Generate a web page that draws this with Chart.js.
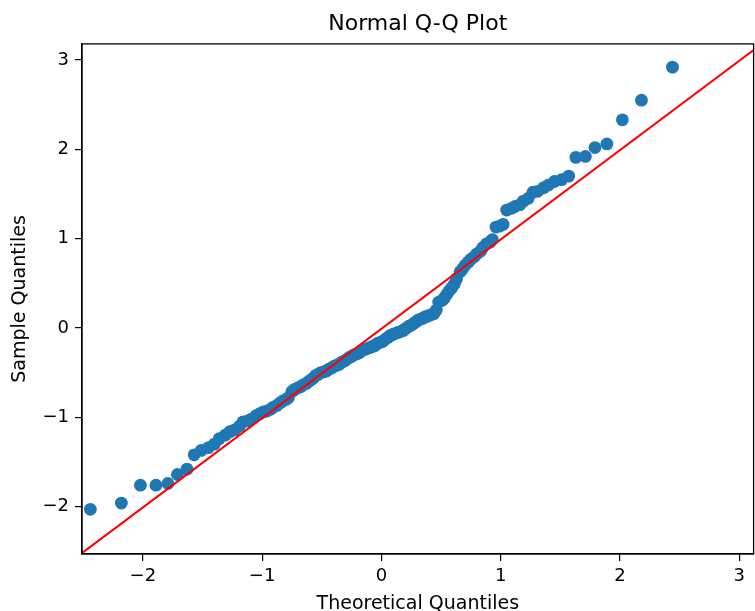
<!DOCTYPE html>
<html>
<head>
<meta charset="utf-8">
<script src="https://cdn.jsdelivr.net/npm/chart.js@4"></script>
<style>
	html, body { margin: 0; padding: 0; overflow: hidden; background: #fff; }
	#wrap { width: 760px; height: 620px; }
</style>
</head>
<body>
<div id="wrap"><canvas id="qq" width="760" height="620"></canvas></div>
<script>
const theoretical = [
	-2.44, -2.18, -2.02, -1.89, -1.79, -1.71, -1.63, -1.57, -1.51, -1.45,
	-1.40, -1.36, -1.31, -1.27, -1.23, -1.19, -1.16, -1.12, -1.09, -1.05,
	-1.02, -0.99, -0.96, -0.93, -0.91, -0.88, -0.85, -0.83, -0.80, -0.78,
	-0.75, -0.73, -0.70, -0.68, -0.66, -0.63, -0.61, -0.59, -0.57, -0.55,
	-0.53, -0.51, -0.48, -0.46, -0.44, -0.42, -0.40, -0.38, -0.36, -0.35,
	-0.33, -0.31, -0.29, -0.27, -0.25, -0.23, -0.21, -0.19, -0.18, -0.16,
	-0.14, -0.12, -0.10, -0.08, -0.06, -0.05, -0.03, -0.01,
	0.01, 0.03, 0.05, 0.06, 0.08, 0.10, 0.12, 0.14, 0.16, 0.18,
	0.19, 0.21, 0.23, 0.25, 0.27, 0.29, 0.31, 0.33, 0.35, 0.36,
	0.38, 0.40, 0.42, 0.44, 0.46, 0.48, 0.51, 0.53, 0.55, 0.57,
	0.59, 0.61, 0.63, 0.66, 0.68, 0.70, 0.73, 0.75, 0.78, 0.80,
	0.83, 0.85, 0.88, 0.91, 0.93, 0.96, 0.99, 1.02, 1.05, 1.09,
	1.12, 1.16, 1.19, 1.23, 1.27, 1.31, 1.36, 1.40, 1.45, 1.51,
	1.57, 1.63, 1.71, 1.79, 1.89, 2.02, 2.18, 2.44
]
const sample = [
	-2.03, -1.96, -1.76, -1.76, -1.74, -1.64, -1.58, -1.42, -1.37, -1.34,
	-1.30, -1.24, -1.20, -1.16, -1.14, -1.10, -1.05, -1.04, -1.02, -0.98,
	-0.96, -0.94, -0.93, -0.91, -0.89, -0.87, -0.84, -0.82, -0.80, -0.78,
	-0.71, -0.69, -0.67, -0.66, -0.64, -0.62, -0.60, -0.58, -0.56, -0.53,
	-0.52, -0.50, -0.49, -0.48, -0.46, -0.45, -0.43, -0.42, -0.41, -0.40,
	-0.38, -0.37, -0.35, -0.33, -0.32, -0.30, -0.29, -0.28, -0.27, -0.25,
	-0.24, -0.23, -0.22, -0.21, -0.20, -0.19, -0.17, -0.16,
	-0.15, -0.13, -0.11, -0.10, -0.08, -0.07, -0.06, -0.05, -0.04, -0.03,
	-0.02, 0.00, 0.02, 0.03, 0.05, 0.07, 0.09, 0.10, 0.11, 0.12,
	0.13, 0.14, 0.15, 0.16, 0.20, 0.29, 0.31, 0.34, 0.38, 0.42,
	0.45, 0.49, 0.55, 0.63, 0.66, 0.70, 0.74, 0.77, 0.80, 0.83,
	0.86, 0.90, 0.94, 0.96, 0.99, 1.13, 1.14, 1.16, 1.32, 1.34,
	1.36, 1.38, 1.42, 1.45, 1.52, 1.53, 1.57, 1.60, 1.64, 1.66,
	1.70, 1.91, 1.92, 2.02, 2.06, 2.33, 2.55, 2.92
]
// reference line (45 degree)
const lineX = [-2.6, 3.2]
const lineY = [-2.61, 3.19]
const xTicks = [-2, -1, 0, 1, 2, 3]
const yTicks = [-2, -1, 0, 1, 2, 3]

const font = 'DejaVu Sans'
const minus = function (v) { return v < 0 ? '\u2212' + Math.abs(v) : String(v) }

const frame = {
	id: 'frame',
	afterDatasetsDraw(chart) {
		const a = chart.chartArea, c = chart.ctx
		c.save()
		c.strokeStyle = '#000'
		c.lineWidth = 1.3
		c.strokeRect(a.left, a.top, a.right - a.left, a.bottom - a.top)
		c.restore()
	}
}

new Chart(document.getElementById('qq'), {
	type: 'scatter',
	data: {
		datasets: [
			{
				type: 'line',
				data: lineX.map((x, i) => ({x: x, y: lineY[i]})),
				borderColor: '#ff0000',
				borderWidth: 2,
				pointRadius: 0,
				fill: false,
				order: 0
			},
			{
				data: theoretical.map((x, i) => ({x: x, y: sample[i]})),
				backgroundColor: '#1f77b4',
				borderWidth: 0,
				pointRadius: 6.4,
				order: 1
			}
		]
	},
	options: {
		responsive: false,
		animation: false,
		layout: { padding: { left: 0, right: 2, top: 0, bottom: 0 } },
		plugins: {
			legend: { display: false },
			tooltip: { enabled: false },
			title: {
				display: true,
				text: 'Normal Q-Q Plot',
				fullSize: false,
				color: '#000',
				font: { family: font, size: 22, weight: 'normal' },
				padding: { top: 11, bottom: 6.5 }
			}
		},
		scales: {
			x: {
				type: 'linear',
				min: -2.51,
				max: 3.12,
				afterBuildTicks: s => { s.ticks = xTicks.map(v => ({value: v})) },
				afterFit: s => { s.height = 66 },
				grid: { drawOnChartArea: false, drawTicks: true, tickLength: 7, color: '#000', lineWidth: 1.2 },
				border: { color: '#000', width: 1.3 },
				ticks: { color: '#000', padding: 5, font: { family: font, size: 18 }, callback: minus },
				title: { display: true, text: 'Theoretical Quantiles', color: '#000', font: { family: font, size: 19 }, padding: { top: 0, bottom: 4.5 } }
			},
			y: {
				type: 'linear',
				min: -2.53,
				max: 3.18,
				afterBuildTicks: s => { s.ticks = yTicks.map(v => ({value: v})) },
				afterFit: s => { s.width = 82 },
				grid: { drawOnChartArea: false, drawTicks: true, tickLength: 7, color: '#000', lineWidth: 1.2 },
				border: { color: '#000', width: 1.3 },
				ticks: { color: '#000', padding: 6, font: { family: font, size: 18 }, callback: minus },
				title: { display: true, text: 'Sample Quantiles', color: '#000', font: { family: font, size: 19 }, padding: { top: 9, bottom: 0 } }
			}
		}
	},
	plugins: [frame]
})
</script>
</body>
</html>
